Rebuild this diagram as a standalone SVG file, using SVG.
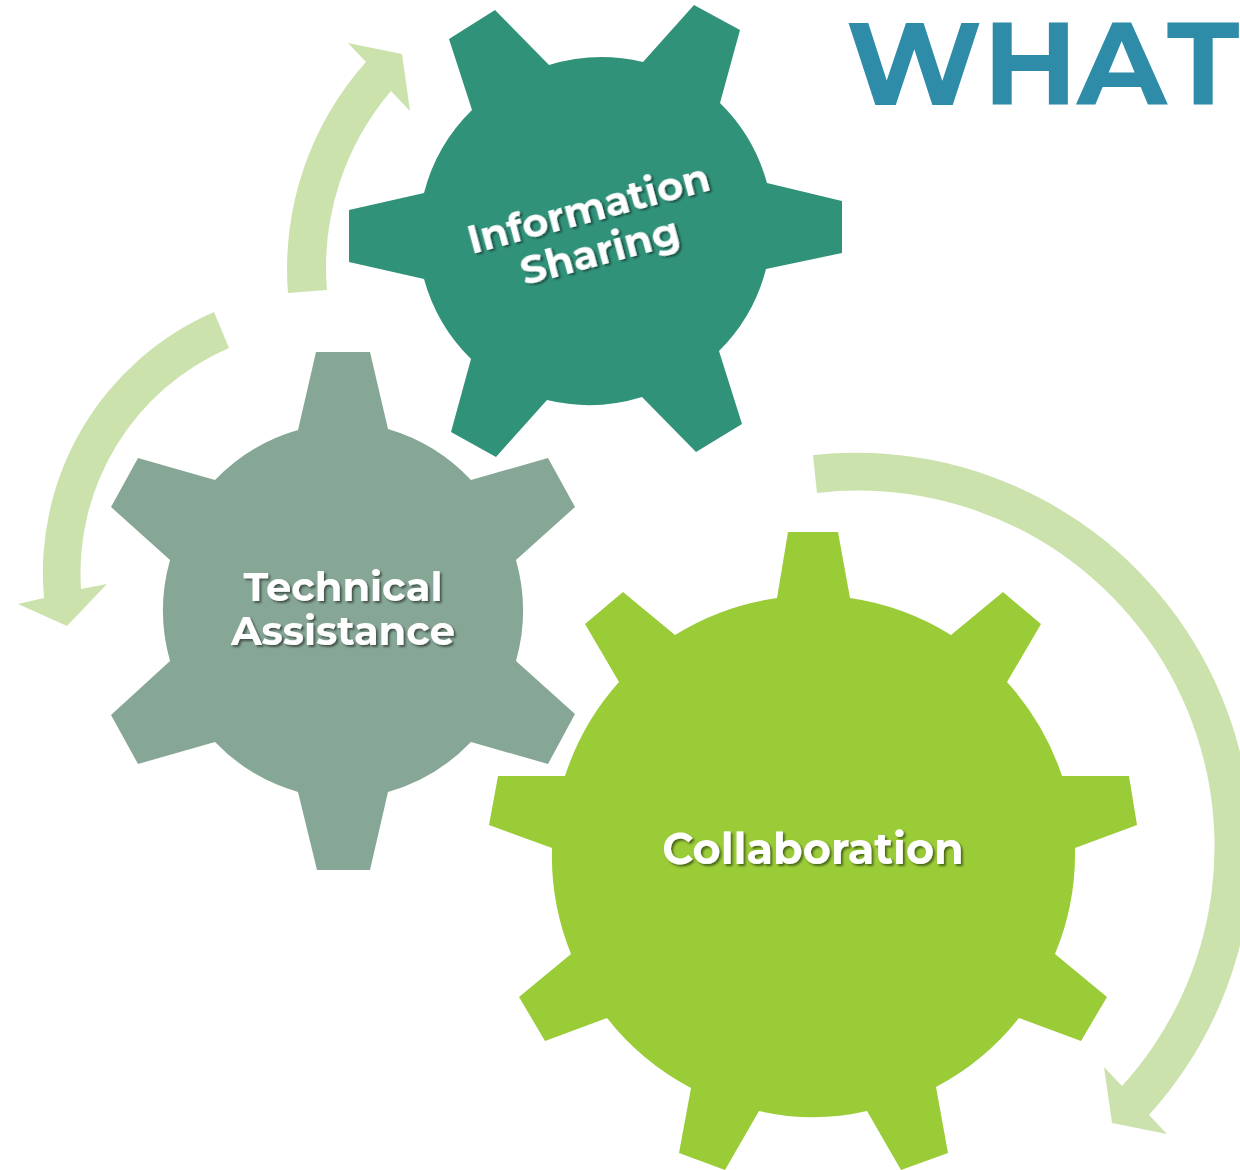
<svg xmlns="http://www.w3.org/2000/svg" width="1240" height="1170" viewBox="0 0 1240 1170">
<defs>
<filter id="sh" x="-10%" y="-10%" width="120%" height="130%"><feDropShadow dx="2" dy="2" stdDeviation="1" flood-color="#000" flood-opacity="0.5"/></filter>
</defs>
<style>
.lbl{font-family:Montserrat,"Inter","Noto Sans","Liberation Sans",sans-serif;font-weight:700;fill:#fff;text-anchor:middle;filter:url(#sh)}
.arc{fill:#cbe2ad}
</style>
<g id="connectors">
<path class="arc" d="M288 293A310 310 0 0 1 366 62L348 43L402 54L410 111L391 91A272 272 0 0 0 327 290Z"/>
<path class="arc" d="M214 312L229 348A245 245 0 0 0 81 589L107 584L67 626L18 604L44 598A284 284 0 0 1 214 312Z"/>
<path class="arc" d="M813 455A396 396 0 0 1 1149 1115L1167 1134L1112 1123L1104 1067L1122 1086A356 356 0 0 0 817 493Z"/>
</g>
<g id="gear-info">
<path fill="#31927a" d="M449 39L495 10L549 65A178 178 0 0 1 643 62L694 5L740 30L720 103A178 178 0 0 1 767 183L842 201V253L766 269A178 178 0 0 1 719 351L742 424L696 452L642 397A178 178 0 0 1 547 400L496 457L451 432L471 359A178 178 0 0 1 424 279L349 262V210L424 193A178 178 0 0 1 472 110Z"/>
<text class="lbl" font-size="40" transform="translate(592 222) rotate(-15)"><tspan x="0" y="0">Information</tspan><tspan x="0" y="44">Sharing</tspan></text>
</g>
<g id="gear-tech">
<path fill="#87a796" d="M316 352H370L388 429A186 186 0 0 1 471 480L548 458L575 507L516 560A186 186 0 0 1 516 661L575 714L548 764L471 742A186 186 0 0 1 388 792L370 870H317L298 792A186 186 0 0 1 215 742L138 764L111 715L170 661A186 186 0 0 1 170 560L111 507L138 458L215 480A186 186 0 0 1 298 430Z"/>
<text class="lbl" font-size="40"><tspan x="343" y="601">Technical</tspan><tspan x="343" y="645">Assistance</tspan></text>
</g>
<g id="gear-collab">
<path fill="#99cc36" d="M788 532H838L850 598A262 262 0 0 1 951 635L1003 592L1041 624L1007 682A262 262 0 0 1 1062 776H1129L1137 825L1075 848A262 262 0 0 1 1055 954L1107 997L1081 1041L1019 1018A262 262 0 0 1 936 1087L948 1153L901 1170L867 1111A240 240 0 0 1 759 1111L725 1170L679 1153L691 1088A262 262 0 0 1 607 1018L545 1041L519 997L571 954A262 262 0 0 1 552 848L489 825L498 776H565A262 262 0 0 1 619 682L585 624L623 592L675 635A262 262 0 0 1 777 598Z"/>
<text class="lbl" font-size="43" x="813" y="864">Collaboration</text>
</g>
<text id="title" x="846 983 1077 1167" y="105" font-family="Montserrat,'Inter','Liberation Sans',sans-serif" font-weight="700" font-size="117" fill="#2e8ca9">WHAT</text>
</svg>
